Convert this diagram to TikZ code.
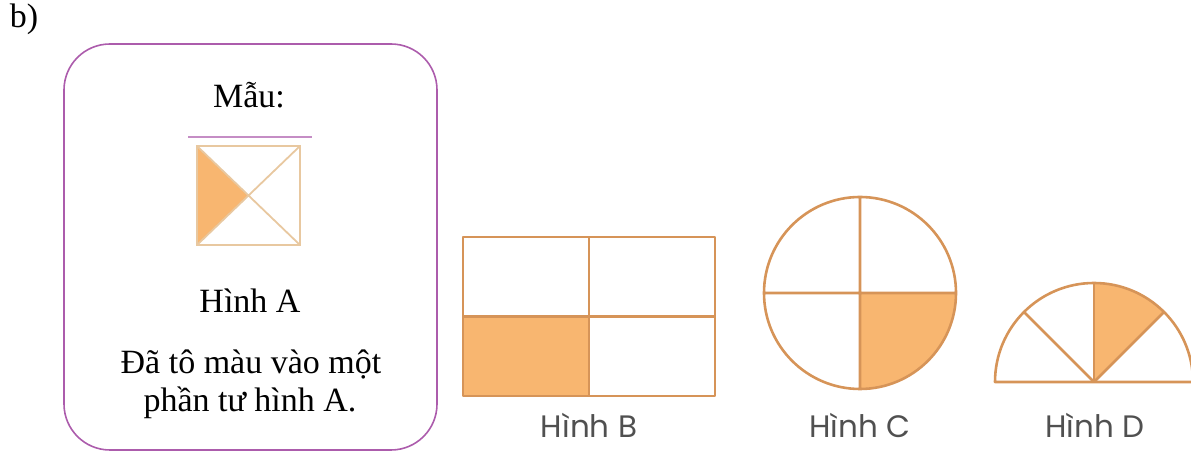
\documentclass[tikz,border=0pt]{standalone}
\usepackage{fontspec}
\setmainfont{Liberation Serif}
\newfontfamily\hinhfont{Poppins}
\usepackage{tikz}

\definecolor{vien}{RGB}{214,148,88}
\definecolor{nhat}{RGB}{232,200,160}
\definecolor{cam}{RGB}{248,182,112}
\definecolor{tim}{RGB}{172,92,172}
\definecolor{chu}{RGB}{80,80,80}

\begin{document}
\begin{tikzpicture}[x=1pt, y=1pt,
    fig/.style={draw=vien, line width=2.6pt, line join=round},
    sq/.style={draw=nhat, line width=1.8pt},
    shade/.style={fill=cam},
    serif/.style={font=\fontsize{34}{38}\selectfont, inner sep=0pt, anchor=base},
    lbl/.style={font=\hinhfont\fontsize{31}{36}\selectfont, text=chu, inner sep=0pt, anchor=base}]

   \useasboundingbox (0,0) rectangle (1191,454);

   \node [serif] (b) at (24,426) {b)};

   % o mau
   \draw [tim, line width=1.6pt, rounded corners=46pt] (64,4) rectangle (437,410);
   \node [serif] (mau) at (249,346) {Mẫu:};
   \draw [tim!70, line width=1.4pt] (188,317) -- (312,317);

   % hinh A
   \fill [shade] (197,209) -- (248.5,258.5) -- (197,308) -- cycle;
   \draw [sq] (197,209) rectangle (300,308) (197,209) -- (300,308) (197,308) -- (300,209);

   \node [serif] (hA) at (250,141) {Hình A};
   \node [serif] (t1) at (251,80) {Đã tô màu vào một};
   \node [serif] (t2) at (250,42) {phần tư hình A.};

   % hinh B
   \fill [shade] (463,58) rectangle (589,137.5);
   \draw [fig] (463,58) rectangle (715,217) (589,58) -- (589,217) (463,137.5) -- (715,137.5);

   % hinh C
   \fill [shade] (860,161) -- (956,161) arc (0:-90:96) -- cycle;
   \draw [fig] (860,161) circle (96) (764,161) -- (956,161) (860,65) -- (860,257);

   % hinh D
   \fill [shade] (1094,72) -- ++(45:99) arc (45:90:99) -- cycle;
   \draw [fig] (995,72) -- (1193,72) arc (0:180:99) -- cycle;
   \foreach \a in {45,90,135}
     \draw [fig] (1094,72) -- ++(\a:99);

   \foreach \x/\t in {589/B, 860/C, 1095/D}
     \node [lbl] (h\t) at (\x,16) {Hình \t};

\end{tikzpicture}
\end{document}
